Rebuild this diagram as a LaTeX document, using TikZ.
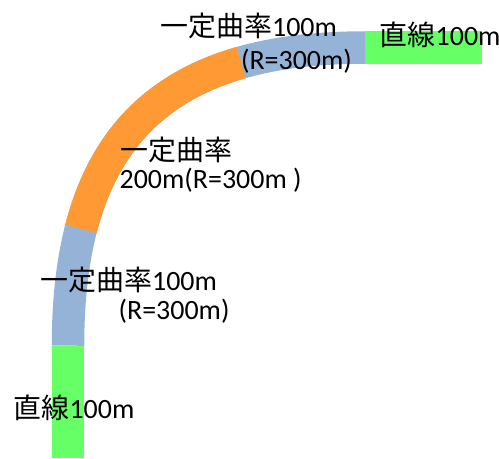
\documentclass[tikz,border=0pt]{standalone}
\usepackage{fontspec}
\setmainfont{Carlito}
\newfontfamily\jp{Noto Sans CJK JP}
\definecolor{roadblue}{HTML}{95B3D7}
\definecolor{roadorange}{HTML}{FF9933}
\definecolor{roadgreen}{HTML}{66FF66}
\tikzset{
  lbl/.style={anchor=west, inner sep=0pt, font=\fontsize{15.9}{19}\selectfont, text=black},
  road/.style={line width=0.65cm, line cap=butt}
}
\begin{document}
\begin{tikzpicture}[x=0.02cm, y=-0.02cm]
\useasboundingbox (0,0) rectangle (499,458);
% straight sections
\fill[roadgreen] (51.75,345.7) rectangle (84.25,458);
\fill[roadgreen] (365,31.25) rectangle (481.7,63.75);
% whole curve in blue
\draw[road, roadblue] (68,345.7) .. controls (68,140.7) and (160,47.5) .. (365,47.5);
% orange middle part of the same curve
\begin{scope}[road]
\pgfsetstrokecolor{roadorange}
\pgfpathcurvebetweentime{0.215}{0.77}{\pgfpointxy{68}{345.7}}{\pgfpointxy{68}{140.7}}{\pgfpointxy{160}{47.5}}{\pgfpointxy{365}{47.5}}
\pgfusepath{stroke}
\end{scope}
% labels
\node[lbl] (l1) at (160,26) {{\jp 一定曲率}100m};
\node[lbl] (l2) at (240.7,61) {(R=300m)};
\node[lbl] (l3) at (379.5,35) {{\jp 直線}100m};
\node[lbl] (l4) at (120,150) {{\jp 一定曲率}};
\node[lbl] (l5) at (119.3,180) {200m(R=300m )};
\node[lbl] (l6) at (40,280) {{\jp 一定曲率}100m};
\node[lbl] (l7) at (118.3,311) {(R=300m)};
\node[lbl] (l8) at (13.3,407.5) {{\jp 直線}100m};
\end{tikzpicture}
\end{document}
